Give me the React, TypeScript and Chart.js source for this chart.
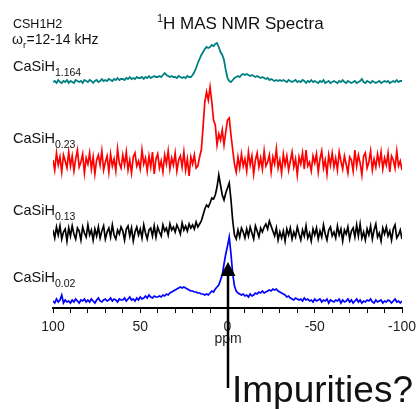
import React, { useEffect, useRef } from "react";
import { Chart, registerables } from "chart.js";

Chart.register(...registerables);

// chemical shift grid (ppm), 100 -> -100 in 1 ppm steps
const PPM_START = 100;
const PPM_STEP = -1;

// spectrum intensities (relative to each trace's own baseline), one value per ppm from 100 to -100
const CASIH_1164 = [
  0, 1, -1, 2, 0, -1, 1, 0, 2, -1,
  1, 0, -1, 2, 1, 0, 1, -1, 2, 1,
  0, 2, 1, -1, 1, 2, 0, 1, 3, 1,
  2, 1, 3, 2, 1, 3, 2, 4, 2, 3,
  3, 2, 4, 3, 5, 3, 4, 3, 5, 4,
  4, 5, 3, 5, 4, 6, 4, 5, 6, 5,
  5, 6, 5, 7, 9, 7, 6, 5, 6, 5,
  5, 4, 6, 5, 4, 5, 4, 6, 5, 5,
  7, 10, 14, 19, 23, 27, 30, 33, 35, 34,
  35, 37, 36, 38, 39, 35, 30, 27, 22, 12,
  4,
  1, 0, 2, 4, 5, 6, 5, 7, 8, 7,
  8, 7, 6, 7, 6, 5, 6, 5, 4, 5,
  4, 3, 4, 2, 3, 2, 1, 2, 1, 2,
  1, 2, 1, 0, 2, 1, 0, 1, 2, 0,
  1, 0, 2, 1, -1, 1, 0, 2, 0, 1,
  0, -1, 1, 0, 2, -1, 0, 1, -1, 0,
  1, 0, -1, 1, 0, 2, 0, -1, 1, 0,
  -1, 0, 1, -1, 0, 1, 3, 0, -1, 1,
  0, -1, 1, 0, -1, 0, 1, -1, 0, 1,
  0, 1, -1, 0, 1, 0, 2, 0, 1, 1,
];

const CASIH_023 = [
  2, -8, 9, -3, 5, -10, 7, 1, -6, 10,
  -4, 6, -9, 3, 12, -5, 0, 8, -11, 4,
  -2, 9, -7, 5, -12, 2, 7, -3, 11, -8,
  0, 6, -10, 8, -4, 3, -9, 13, -1, -6,
  7, -3, 10, -8, 2, -11, 5, 9, -4, 1,
  -7, 12, -2, 4, -9, 6, -5, 10, -12, 3,
  8, -6, 1, -10, 7, -2, 11, -7, 4, -3,
  9, -9, 2, 6, -5, 10, -8, 3, -14, 5,
  -2, 7, -6, -4, 5, 12, 35, 60, 70, 62,
  75, 60, 42, 37, 17, 28, 22, 32, 17, 30,
  42,
  44, 27, 12, -2, -10, 5, -6, 8, -4, 3,
  -9, 10, -3, 6, -12, 2, 9, -5, 4, -7,
  11, -4, 0, 7, -10, 5, -2, 13, -6, 2,
  -11, 8, -3, 6, -8, 1, 10, -5, 3, -13,
  5, -2, 9, -7, 12, -4, 0, -9, 6, -1,
  8, -10, 3, 11, -6, 2, -12, 7, -3, 9,
  -5, 4, -8, 10, 1, -7, 6, -2, -11, 5,
  2, -9, 12, -4, 7, -1, -13, 6, 9, -6,
  0, 11, -8, 3, -5, 8, -2, 10, -7, 4,
  -3, 9, -10, 6, 2, -6, 11, -4, 1, -8,
];

const CASIH_013 = [
  3, -5, 6, -2, 7, -6, 1, 4, -8, 5,
  -3, 7, -1, -6, 5, 2, -7, 6, 0, -4,
  8, -2, 3, -7, 4, -3, 6, -5, 2, 7,
  -6, 1, 5, -4, 8, -2, -6, 3, -1, 6,
  2, -7, 4, 7, -3, 5, -8, 1, 6, -2,
  4, -5, 8, 0, -6, 3, 5, -3, 7, -4,
  6, 1, -3, 8, 2, 5, -2, 9, 3, 6,
  1, 8, 4, -1, 10, 3, 7, 2, 9, 5,
  8, 4, 11, 6, 9, 12, 18, 24, 28, 26,
  30, 35, 34, 38, 46, 58, 48, 38, 33, 40,
  45,
  50, 33, 12, -2, -6, 3, -4, 5, 1, -5,
  4, -3, 6, 0, -6, 7, 2, -4, 5, 1,
  6, 9, 4, 12, 7, 2, -3, 5, -7, 1,
  -5, 2, -8, 4, -2, 5, -6, 1, -4, 6,
  -1, -7, 3, -3, 7, -5, 0, -8, 4, -2,
  5, -6, 2, -4, 8, -1, -7, 3, 6, -3,
  1, -5, 7, -2, 4, -8, 3, -1, 6, -6,
  2, 5, -4, 8, -3, 9, -5, 1, -7, 4,
  -2, 7, -6, 3, 9, -4, 0, -8, 5, -1,
  6, -3, 2, -7, 4, 8, -5, -2, 3, -6,
];

const CASIH_002 = [
  1, -1, 3, 0, 2, 7, -1, 2, 0, 1,
  -1, 2, 0, 3, 1, -1, 2, 1, 3, 0,
  2, 0, 3, 1, -1, 2, 4, 1, 0, 2,
  3, 1, 2, 4, 1, 3, 2, 0, 3, 2,
  2, 4, 1, 3, 5, 2, 3, 1, 4, 2,
  5, 3, 4, 6, 4, 7, 5, 4, 6, 5,
  5, 6, 5, 7, 6, 8, 7, 9, 10, 11,
  12, 13, 14, 15, 14, 15, 14, 13, 12, 11,
  11, 10, 10, 9, 9, 8, 8, 7, 8, 7,
  9, 11, 10, 13, 15, 17, 22, 27, 38, 48,
  56,
  65, 48, 28, 16, 11, 9, 8, 7, 8, 6,
  7, 5, 8, 6, 7, 9, 8, 10, 9, 11,
  9, 10, 11, 12, 11, 13, 12, 13, 11, 10,
  9, 8, 7, 5, 6, 4, 3, 2, 4, 3,
  2, 3, 1, 4, 2, 3, 1, 2, 0, 3,
  1, 2, 3, 0, 2, 1, 3, -1, 2, 1,
  0, 2, 1, 3, -1, 2, 0, 1, 3, 0,
  2, -1, 1, 3, 0, 2, -1, 1, 0, 2,
  1, 3, 0, -1, 2, 0, 1, 2, -1, 1,
  0, 2, 1, -1, 1, 3, 0, 1, -1, 1,
];

const SERIES_NAMES = ["CaSiH1.164", "CaSiH0.23", "CaSiH0.13", "CaSiH0.02"];
const SERIES_SUBSCRIPTS = ["1.164", "0.23", "0.13", "0.02"];
const SERIES_VALUES = [CASIH_1164, CASIH_023, CASIH_013, CASIH_002];
// vertical stacking offset of each trace
const SERIES_OFFSETS = [226, 146, 75, 6];
const SERIES_COLORS = ["#008080", "#ff0000", "#000000", "#0000ff"];
const SERIES_WIDTHS = [1.8, 1.7, 1.7, 1.7];

const X_TICKS_LABELLED = [100, 50, 0, -50, -100];
const ARROW_PPM = 0;

const FONT = "'Liberation Sans', Arial, Helvetica, sans-serif";

const annotations = {
  id: "annotations",
  afterDraw(chart: any) {
    const ctx = chart.ctx as CanvasRenderingContext2D;
    const xs = chart.scales.x;
    ctx.save();
    ctx.fillStyle = "#111";
    ctx.textAlign = "left";
    ctx.textBaseline = "alphabetic";

    // title
    ctx.font = `11px ${FONT}`;
    ctx.fillText("1", 157, 22);
    ctx.font = `17px ${FONT}`;
    ctx.fillText("H MAS NMR Spectra", 163, 29);

    // top-left notes
    ctx.font = `12.5px ${FONT}`;
    ctx.fillText("CSH1H2", 13, 28);
    ctx.font = `14px ${FONT}`;
    ctx.fillText("ω", 12, 44);
    const wW = ctx.measureText("ω").width;
    ctx.font = `9.5px ${FONT}`;
    ctx.fillText("r", 12 + wW, 48);
    const rW = ctx.measureText("r").width;
    ctx.font = `14px ${FONT}`;
    ctx.fillText("=12-14 kHz", 12 + wW + rW + 0.5, 44);

    // series labels
    const baselines = [71, 143, 215, 282];
    SERIES_SUBSCRIPTS.forEach((sub, i) => {
      ctx.font = `14.5px ${FONT}`;
      ctx.fillText("CaSiH", 13, baselines[i]);
      const w = ctx.measureText("CaSiH").width;
      ctx.font = `10.5px ${FONT}`;
      ctx.fillText(sub, 13 + w, baselines[i] + 5);
    });

    const ax = Math.round(xs.getPixelForValue(ARROW_PPM));

    // axis title
    ctx.fillStyle = "#222";
    ctx.font = `14px ${FONT}`;
    ctx.textAlign = "center";
    ctx.fillText("ppm", ax, 343);
    ctx.textAlign = "left";

    // arrow
    ctx.strokeStyle = "#000";
    ctx.lineWidth = 2.5;
    ctx.beginPath();
    ctx.moveTo(ax, 272);
    ctx.lineTo(ax, 388);
    ctx.stroke();
    ctx.fillStyle = "#000";
    ctx.beginPath();
    ctx.moveTo(ax, 262);
    ctx.lineTo(ax + 7.5, 276);
    ctx.lineTo(ax - 7.5, 276);
    ctx.closePath();
    ctx.fill();

    ctx.fillStyle = "#111";
    ctx.font = `37px ${FONT}`;
    ctx.fillText("Impurities?", ax + 4, 402);
    ctx.restore();
  },
};

export default function App() {
  const ref = useRef<HTMLCanvasElement | null>(null);

  useEffect(() => {
    if (!ref.current) return;
    const datasets = SERIES_VALUES.map((vals, s) => ({
      label: SERIES_NAMES[s],
      data: vals.map((v, i) => ({ x: PPM_START + PPM_STEP * i, y: v + SERIES_OFFSETS[s] })),
      borderColor: SERIES_COLORS[s],
      backgroundColor: SERIES_COLORS[s],
      borderWidth: SERIES_WIDTHS[s],
      pointRadius: 0,
      tension: 0,
      fill: false,
    }));

    const chart = new Chart(ref.current, {
      type: "line",
      data: { datasets },
      plugins: [annotations],
      options: {
        animation: false,
        responsive: false,
        devicePixelRatio: 1,
        layout: { padding: { left: 53, right: 16, top: 38, bottom: 0 } },
        plugins: {
          legend: { display: false },
          tooltip: { enabled: false },
          title: { display: false },
        },
        scales: {
          x: {
            type: "linear",
            reverse: true,
            min: -100,
            max: 100,
            afterFit: (scale: any) => {
              scale.height = 101;
              scale.paddingLeft = 0;
              scale.paddingRight = 0;
            },
            border: { display: true, color: "#000", width: 2 },
            grid: {
              display: true,
              drawOnChartArea: false,
              drawTicks: true,
              tickLength: 5,
              color: "#000",
              lineWidth: 1,
            },
            ticks: {
              stepSize: 10,
              autoSkip: false,
              maxRotation: 0,
              padding: 6,
              color: "#222",
              font: { family: FONT, size: 14 },
              callback: (v: any) => (X_TICKS_LABELLED.includes(Number(v)) ? String(v) : ""),
            },
            title: { display: false },
          },
          y: {
            display: false,
            min: 0,
            max: 270,
          },
        },
      },
    });
    return () => chart.destroy();
  }, []);

  return (
    <div style={{ position: "fixed", left: 0, top: 0, width: 418, height: 409, background: "#fff" }}>
      <canvas ref={ref} width={418} height={409} style={{ display: "block", width: 418, height: 409 }} />
    </div>
  );
}
